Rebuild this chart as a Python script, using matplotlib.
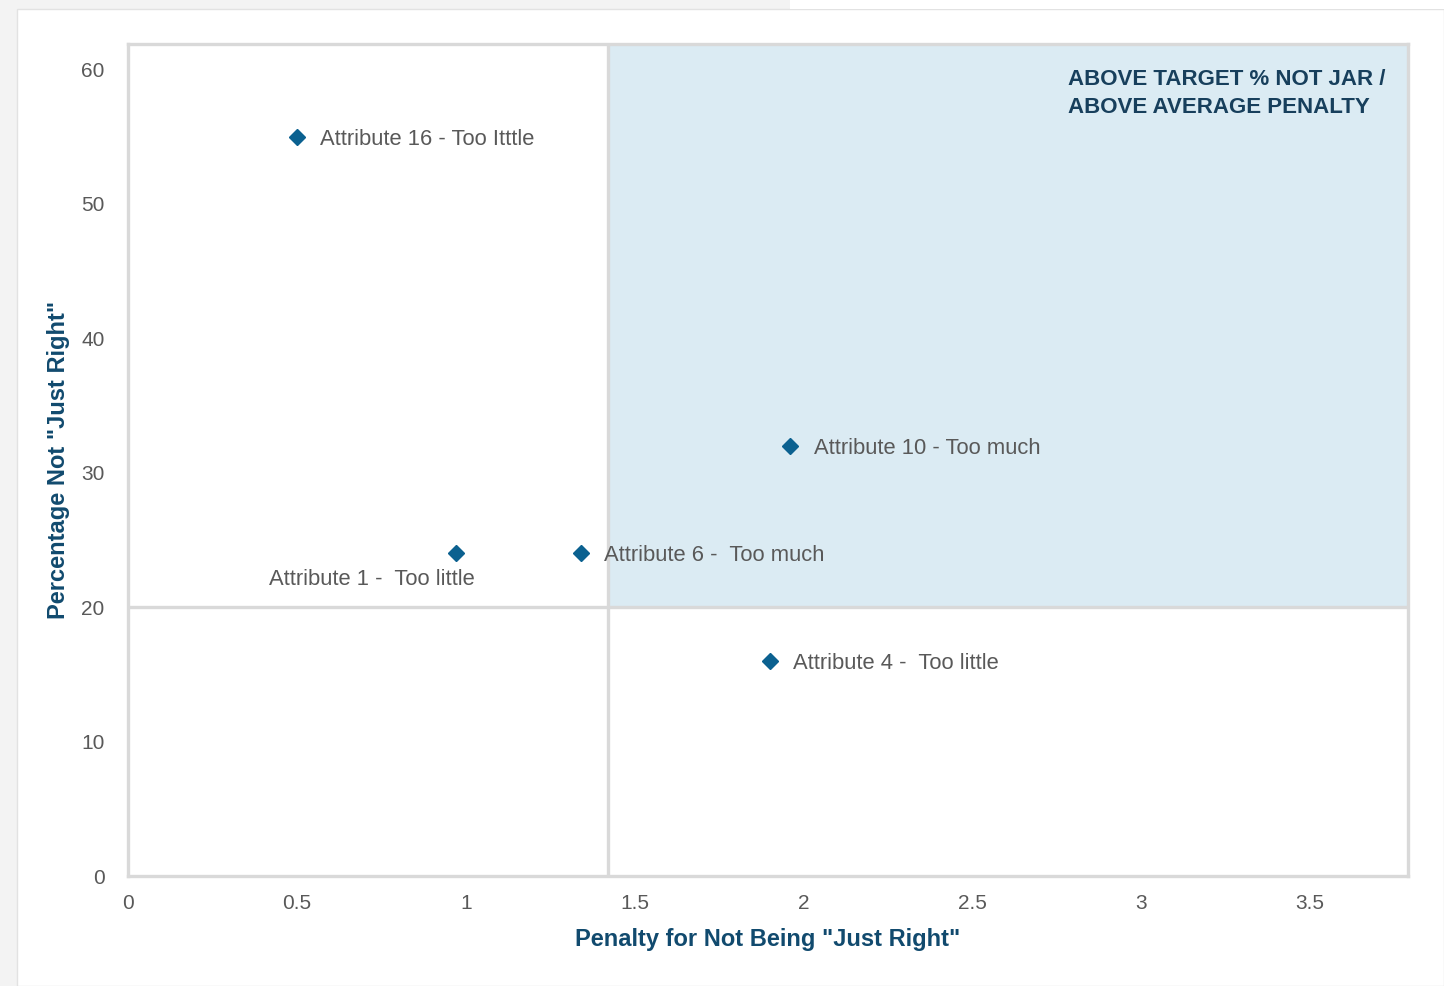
import matplotlib.pyplot as plt
from matplotlib.patches import Rectangle

plt.rcParams['font.family'] = ['Liberation Sans', 'DejaVu Sans']

# Data
labels = [
    'Attribute 16 - Too Itttle',
    'Attribute 1 -  Too little',
    'Attribute 6 -  Too much',
    'Attribute 10 - Too much',
    'Attribute 4 -  Too little',
]
penalty = [0.50, 0.97, 1.34, 1.96, 1.90]
pct_not_jar = [55.0, 24.0, 24.0, 32.0, 16.0]

avg_penalty = 1.42
target_pct = 20
x_ticks = [0, 0.5, 1, 1.5, 2, 2.5, 3, 3.5]
x_tick_labels = ['0', '0.5', '1', '1.5', '2', '2.5', '3', '3.5']
y_ticks = [0, 10, 20, 30, 40, 50, 60]

# label offsets in points (dx, dy, ha)
label_pos = [(17, -2, 'left'), (14, -19, 'right'), (17, -1.5, 'left'),
             (17, -2, 'left'), (17, -1.5, 'left')]

XMAX, YMAX = 3.79, 61.9
grid_col = '#d9d9d9'
navy = '#114a6e'

fig = plt.figure(figsize=(14.44, 9.86), dpi=100, facecolor='#f3f3f3')

# white page panel behind the chart
fig.patches.append(Rectangle((17 / 1444, 0), 1 - 17 / 1444, 1 - 9 / 986,
                             transform=fig.transFigure, facecolor='white',
                             edgecolor='#e2e2e2', lw=1.0, zorder=-2))
fig.patches.append(Rectangle((790 / 1444, 1 - 9 / 986), 1, 9 / 986,
                             transform=fig.transFigure, facecolor='white',
                             edgecolor='none', zorder=-2))

ax = fig.add_axes([128 / 1444, 1 - 876 / 986, 1280 / 1444, 832 / 986])
ax.set_facecolor('white')
ax.set_xlim(0, XMAX)
ax.set_ylim(0, YMAX)

# shaded quadrant
ax.add_patch(Rectangle((avg_penalty, target_pct), XMAX - avg_penalty, YMAX - target_pct,
                       facecolor='#dbebf3', edgecolor='none', zorder=0))
ax.axvline(avg_penalty, color=grid_col, lw=2.4, zorder=1)
ax.axhline(target_pct, color=grid_col, lw=2.4, zorder=1)

for s in ax.spines.values():
    s.set_color(grid_col)
    s.set_linewidth(2.4)

# points
ax.plot(penalty, pct_not_jar, 'D', color='#0b6190', markersize=8, zorder=3, clip_on=False)
for lab, x, y, (dx, dy, ha) in zip(labels, penalty, pct_not_jar, label_pos):
    ax.annotate(lab, (x, y), xytext=(dx, dy), textcoords='offset points',
                ha=ha, va='center', fontsize=15.8, color='#595959')

ax.text(0.734, 0.970, 'ABOVE TARGET % NOT JAR /\nABOVE AVERAGE PENALTY',
        transform=ax.transAxes, ha='left', va='top', fontsize=16,
        fontweight='bold', color='#173f5c', linespacing=1.45)

ax.set_xticks(x_ticks)
ax.set_xticklabels(x_tick_labels)
ax.set_yticks(y_ticks)
ax.tick_params(length=0, labelsize=15, labelcolor='#595959')
ax.tick_params(axis='x', pad=13)
ax.tick_params(axis='y', pad=17)

ax.set_xlabel('Penalty for Not Being "Just Right"', fontsize=17, fontweight='bold',
              color=navy, labelpad=11)
ax.set_ylabel('Percentage Not "Just Right"', fontsize=17, fontweight='bold',
              color=navy, labelpad=8)

fig.savefig('out.png', dpi=100, facecolor=fig.get_facecolor())
